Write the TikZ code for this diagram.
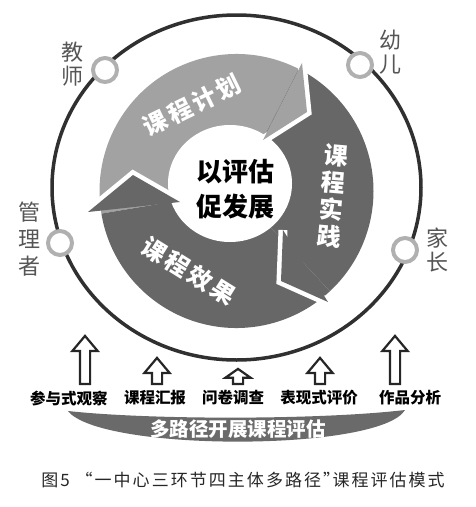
\documentclass[tikz,border=0pt]{standalone}
\usepackage{fontspec}
\usetikzlibrary{shapes.arrows}
\newfontfamily\cjk{Noto Sans CJK SC}
\definecolor{planfill}{HTML}{A2A2A2}
\definecolor{darkfill}{HTML}{676767}
\definecolor{ringline}{HTML}{303030}
\definecolor{markline}{HTML}{B0B0B0}
\definecolor{whotext}{HTML}{555555}
\definecolor{bandfill}{HTML}{6A6A6A}

\tikzset{
  who/.style={font=\cjk\fontsize{22}{24}\selectfont,text=whotext,align=center,inner sep=0pt},
  marker/.style={circle,draw=markline,line width=4pt,fill=white,minimum size=24pt,inner sep=0pt},
  seg/.style={font=\cjk\bfseries\fontsize{24}{27}\selectfont\addfontfeature{LetterSpace=12},
    text=white,align=center,inner sep=0pt},
  core/.style={font=\cjk\bfseries\fontsize{26}{35}\selectfont,align=center,inner sep=0pt},
  way/.style={font=\cjk\bfseries\fontsize{15.5}{16}\selectfont,inner sep=0pt},
  band/.style={font=\cjk\bfseries\fontsize{19.5}{20}\selectfont,text=white,inner sep=0pt},
  figcap/.style={font=\cjk\fontsize{17}{20}\selectfont\addfontfeature{LetterSpace=12},text=black!85,inner sep=0pt},
  uparrow/.style={single arrow,draw=black!85,fill=white,line width=2.2pt,
    shape border rotate=90,single arrow head extend=7.5pt,
    single arrow tip angle=80,inner sep=4pt,anchor=tail},
  gap/.style={white,line width=9pt,line join=miter},
}

\begin{document}
\begin{tikzpicture}[x=1pt,y=1pt]
\useasboundingbox (0,0) rectangle (475,-507);

\coordinate (O) at (236.5,-191);
\coordinate (H) at (230,-183.5);
\coordinate (E) at (236.5,-187.5);

\draw[ringline,line width=3.5pt] (E) ellipse[x radius=184.5,y radius=172.5];

\fill[planfill] (O) -- ++(63:137) arc[start angle=63,end angle=189.5,radius=137] -- cycle;
\fill[darkfill] (O) -- ++(-47:137) arc[start angle=-47,end angle=63,radius=137] -- cycle;
\fill[darkfill] (O) -- ++(-170.5:137) arc[start angle=-170.5,end angle=-47,radius=137] -- cycle;
\fill[white] (H) ellipse[x radius=62,y radius=58.5];

\draw[gap] (302,-63) -- (307,-112) -- (263,-140);
\fill[planfill] (302,-63) -- (307,-112) -- (263,-140) -- cycle;
\draw[gap] (283,-230) -- (281,-281) -- (328,-302);
\fill[darkfill] (283,-230) -- (281,-281) -- (328,-302) -- cycle;
\draw[gap] (88,-212) -- (133,-175) -- (180,-202);
\fill[darkfill] (88,-212) -- (133,-175) -- (180,-202) -- cycle;

\node[seg,rotate=26]
(plan)
at (192,-105)
{课程计划};

\node[seg,rotate=-5]
(practice)
at (332.5,-196)
{课\\程\\实\\践};

\node[seg,rotate=-32]
(effect)
at (189,-271)
{课程效果};

\node[core]
(core)
at (235,-189.5)
{以评估\\促发展};

\node[marker] (mteacher) at (105,-70) {};
\node[marker] (mchild) at (360,-65) {};
\node[marker] (mmanager) at (60,-243) {};
\node[marker] (mparent) at (405,-250) {};

\node[who]
(teacher)
at (72.5,-64)
{教\\师};

\node[who]
(child)
at (390,-52)
{幼\\儿};

\node[who,font=\cjk\fontsize{22}{27}\selectfont]
(manager)
at (30,-239.5)
{管\\理\\者};

\node[who]
(parent)
at (437.5,-250)
{家\\长};

\node[uparrow,minimum height=48pt] (a1) at (85,-385) {};
\node[uparrow,minimum height=26pt] (a2) at (157,-385) {};
\node[uparrow,minimum height=15pt,single arrow tip angle=110] (a3) at (238,-385) {};
\node[uparrow,minimum height=26pt] (a4) at (320,-385) {};
\node[uparrow,minimum height=48pt] (a5) at (395,-385) {};

\node[way] (w1) at (69,-398) {参与式观察};
\node[way] (w2) at (155,-398) {课程汇报};
\node[way] (w3) at (233,-398) {问卷调查};
\node[way] (w4) at (319,-398) {表现式评价};
\node[way] (w5) at (410,-398) {作品分析};

\fill[bandfill] (68,-411) .. controls (150,-420) and (320,-420) .. (405,-410)
  .. controls (380,-452) and (100,-452) .. cycle;

\node[band]
(bandtext)
at (238,-429)
{多路径开展课程评估};

\node[figcap]
(caption)
at (243,-480)
{图5\ “一中心三环节四主体多路径”{\kern-.45em}课程评估模式};

\end{tikzpicture}
\end{document}
